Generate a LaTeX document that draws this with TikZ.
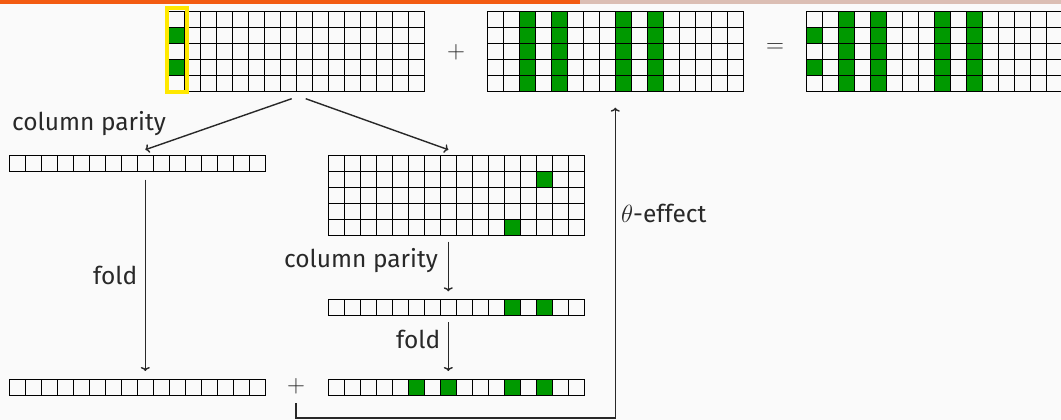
\documentclass[tikz,border=0pt]{standalone}
\usepackage[no-math]{fontspec}
\setmainfont{Fira Sans}
\usetikzlibrary{arrows.meta}
\definecolor{bg}{HTML}{FAFAFA}
\definecolor{barA}{RGB}{243,91,18}
\definecolor{barB}{RGB}{219,190,180}
\definecolor{cellg}{RGB}{0,153,0}
\definecolor{selY}{RGB}{255,232,0}
\definecolor{ink}{RGB}{40,40,40}
\tikzset{
  gridbox/.style={draw=black, line width=1pt, inner sep=0pt, outer sep=0pt},
  gridline/.style={draw=black, line width=1pt},
  conn/.style={draw=ink, line width=1.4pt, -{To[length=4pt,width=9pt]}},
  lbl/.style={inner sep=0pt, text=ink, font=\fontsize{24.5}{30}\selectfont},
  op/.style={inner sep=0pt, text=ink, font=\fontsize{26}{30}\selectfont},
}
\newcommand{\cellgrid}[4]{% name, x0, y0, rows
  \node[gridbox, minimum width=256pt, minimum height=#4*16pt, anchor=north west] (#1) at (#2,#3) {};
  \foreach \k in {1,...,15}{
    \draw[gridline] ([xshift=\k*16pt]#1.north west) -- ([xshift=\k*16pt]#1.south west);}
  \ifnum#4>1
    \foreach \k in {1,...,4}{
      \draw[gridline] ([yshift=-\k*16pt]#1.north west) -- ([yshift=-\k*16pt]#1.north east);}
  \fi
}
\newcommand{\gcell}[4]{% x0, y0, col, row
  \fill[cellg] ({#1+16*#3},{#2+16*#4}) rectangle ++(16,16);
}
\begin{document}
\begin{tikzpicture}[x=1pt,y=-1pt]
\useasboundingbox (0,0) rectangle (1061,420);
\fill[bg] (0,0) rectangle (1061,420);
\fill[barA] (0,0) rectangle (580,4);
\fill[barB] (580,0) rectangle (1061,4);

% top grids
\gcell{168.7}{11.7}{0}{1}
\gcell{168.7}{11.7}{0}{3}
\cellgrid{g1}{168.7}{11.7}{5}
\node[draw=selY, line width=4pt, inner sep=0pt, minimum width=20.2pt, minimum height=83.7pt] (sel) at (176.9,50.35) {};

\foreach \c in {2,4,8,10}{\fill[cellg] ({487.3+16*\c},11.7) rectangle ++(16,80);}
\cellgrid{g2}{487.3}{11.7}{5}

\gcell{806.7}{11.7}{0}{1}
\gcell{806.7}{11.7}{0}{3}
\foreach \c in {2,4,8,10}{\fill[cellg] ({806.7+16*\c},11.7) rectangle ++(16,80);}
\cellgrid{g3}{806.7}{11.7}{5}

\node[op] (p1) at (456,52) {$+$};
\node[op] (eq) at (775,48.5) {$=$};

% left branch
\cellgrid{v1}{9.3}{155.7}{1}
\cellgrid{v4}{9.3}{379}{1}

% middle branch
\gcell{328.3}{155.7}{13}{1}
\gcell{328.3}{155.7}{11}{4}
\cellgrid{g4}{328.3}{155.7}{5}

\gcell{328.3}{299.3}{11}{0}
\gcell{328.3}{299.3}{13}{0}
\cellgrid{v2}{328.3}{299.3}{1}

\foreach \c in {5,7,11,13}{\gcell{328.3}{379}{\c}{0}}
\cellgrid{v3}{328.3}{379}{1}

\node[op] (p2) at (296,386) {$+$};

% labels
\node[lbl, anchor=base west] (lcp1) at (12,130) {column parity};
\node[lbl, anchor=base west] (lcp2) at (284,267) {column parity};
\node[lbl, anchor=base west] (lf1) at (93,284) {fold};
\node[lbl, anchor=base west] (lf2) at (396,348) {fold};
\node[lbl, anchor=base west] (lth) at (621,222) {$\theta$-effect};

% connectors
\draw[conn] ([xshift=-5pt,yshift=-7pt]g1.south) -- ([xshift=8pt,yshift=6pt]v1.north);
\draw[conn] ([xshift=9pt,yshift=-7pt]g1.south) -- ([xshift=-8pt,yshift=6pt]g4.north);
\draw[conn] ([xshift=8pt,yshift=-8pt]v1.south) -- ([xshift=8pt,yshift=8pt]v4.north);
\draw[conn] ([xshift=-8pt,yshift=-6pt]g4.south) -- ([xshift=-8pt,yshift=8pt]v2.north);
\draw[conn] ([xshift=-8pt,yshift=-7pt]v2.south) -- ([xshift=-8pt,yshift=8pt]v3.north);
\coordinate (tc) at (615.3,418);
\draw[conn] ([yshift=-17pt]p2.center) |- (tc) -- ([yshift=-16pt]g2.south);
\end{tikzpicture}
\end{document}
